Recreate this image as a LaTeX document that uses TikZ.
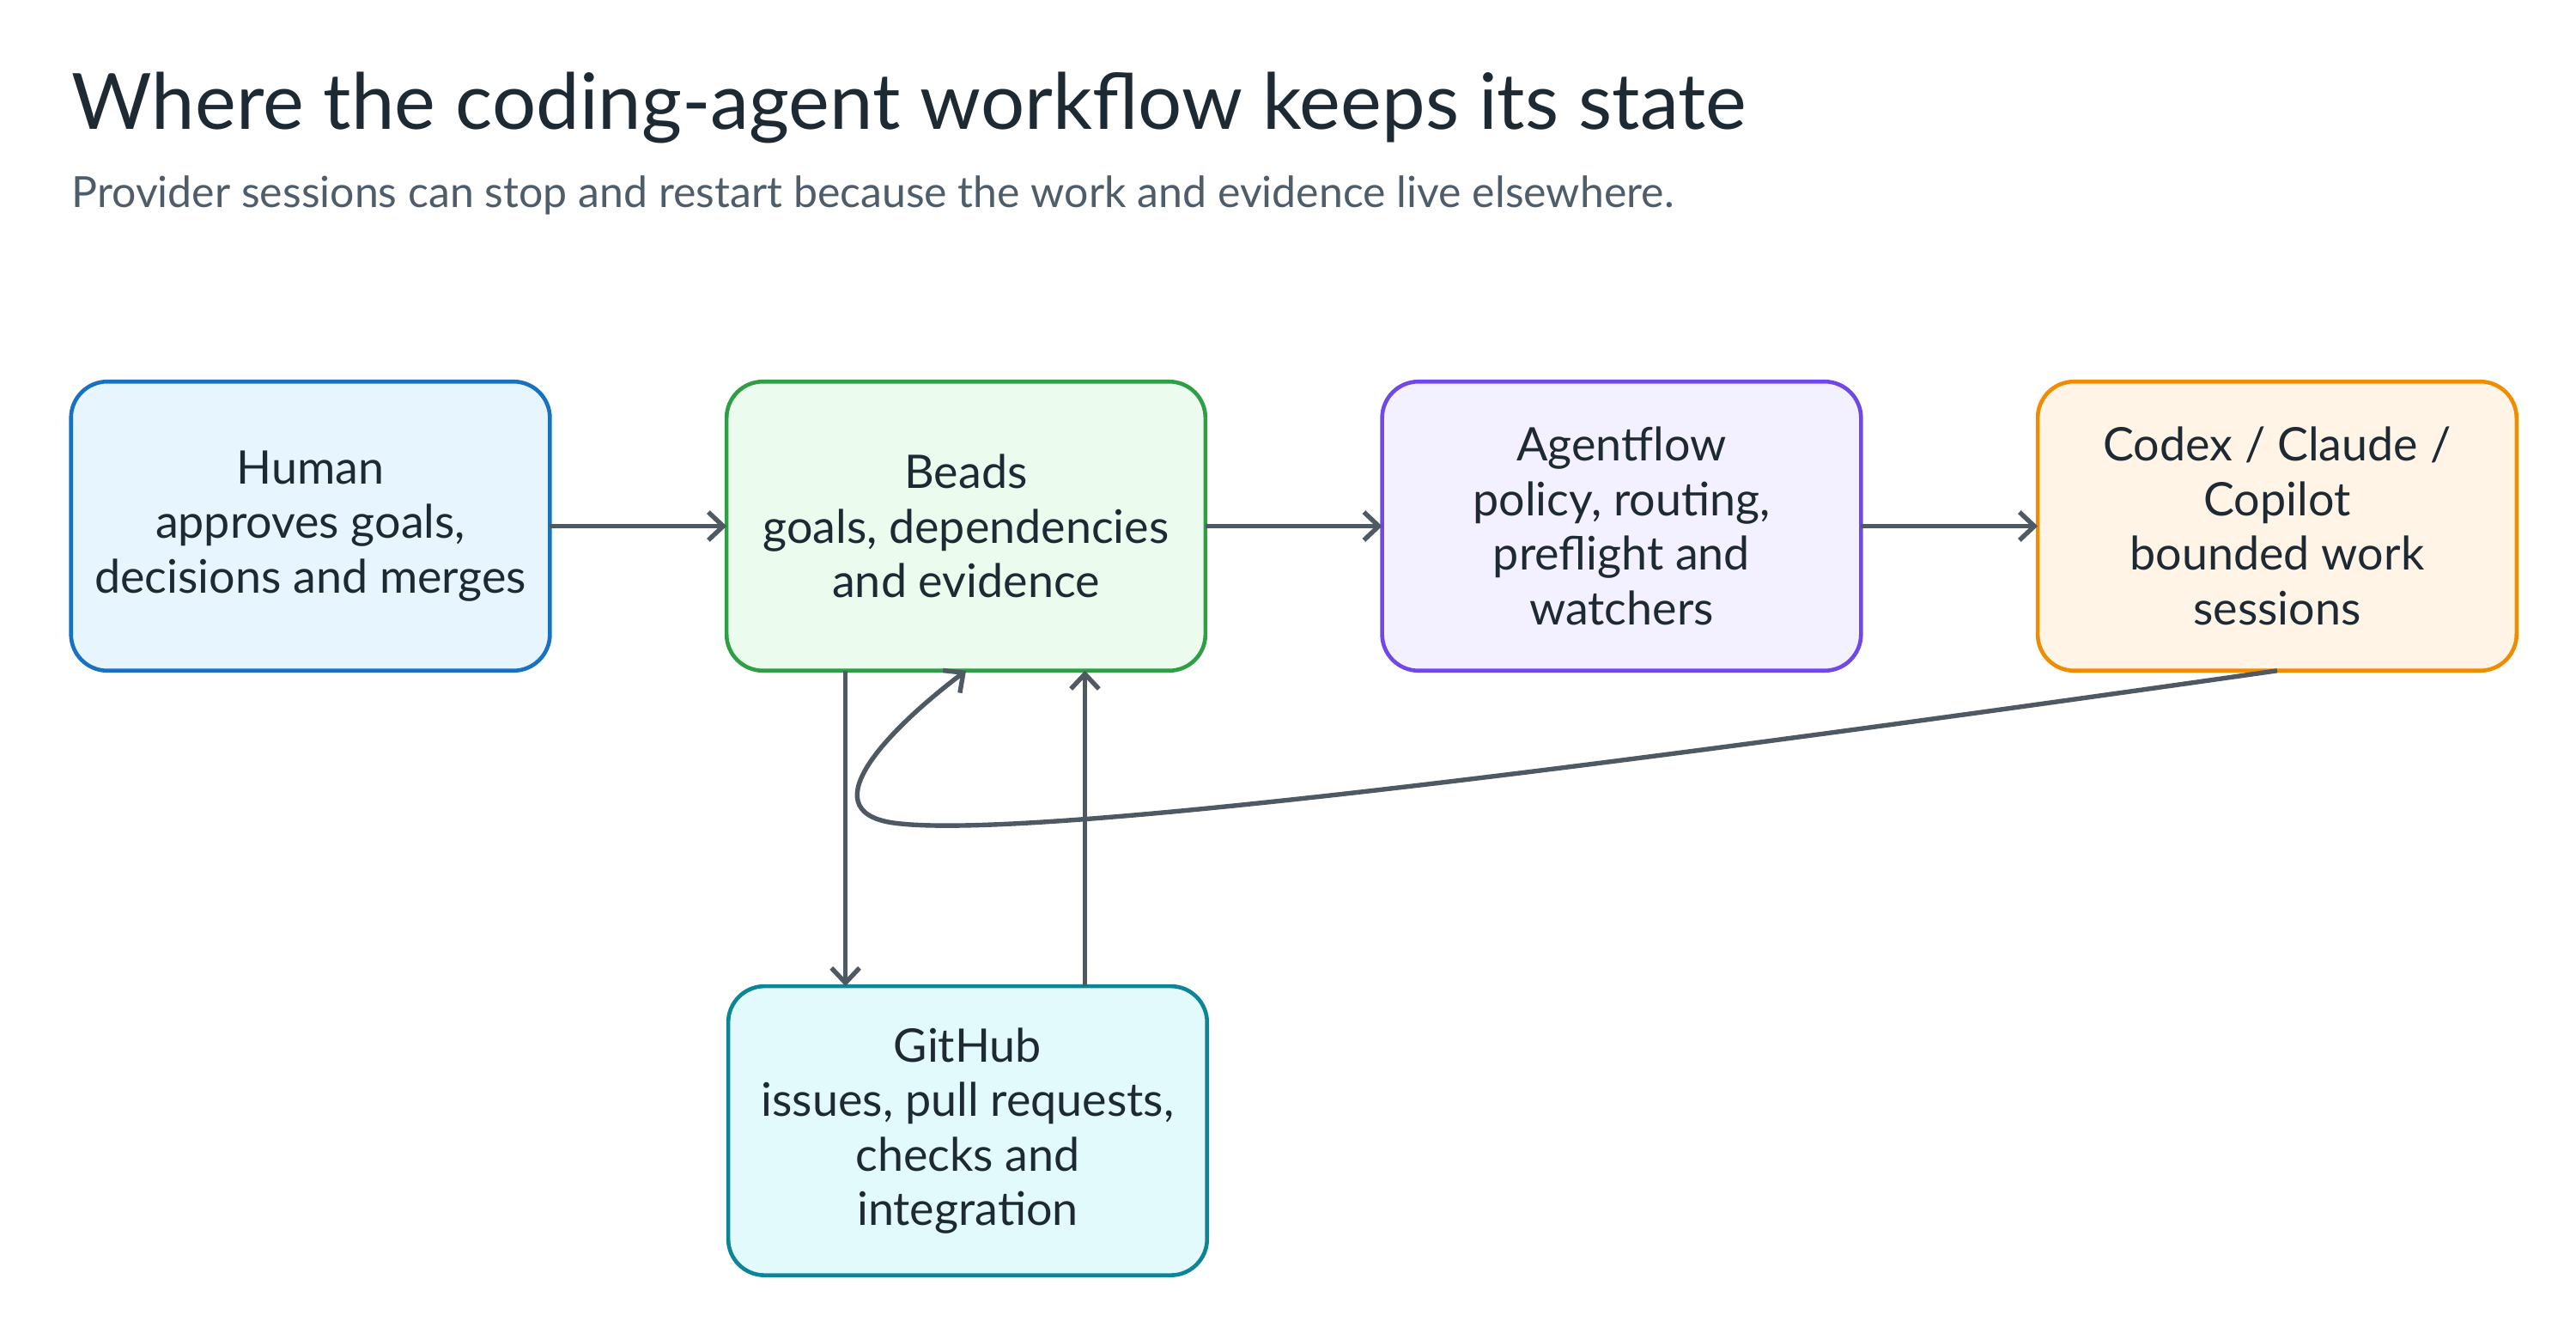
\documentclass[tikz,border=0pt]{standalone}
\usepackage{fontspec}
\setmainfont{Lato}
\usetikzlibrary{arrows.meta}
\definecolor{ink}{HTML}{1E2A33}
\definecolor{sub}{HTML}{4F5D6B}
\definecolor{arr}{HTML}{4F5963}
\definecolor{bD}{HTML}{1971C2}\definecolor{bF}{HTML}{E7F5FF}
\definecolor{gD}{HTML}{2F9E44}\definecolor{gF}{HTML}{EBFBEE}
\definecolor{vD}{HTML}{7048E8}\definecolor{vF}{HTML}{F3F0FF}
\definecolor{oD}{HTML}{F08C00}\definecolor{oF}{HTML}{FFF4E6}
\definecolor{tD}{HTML}{0C8599}\definecolor{tF}{HTML}{E3FAFC}
\begin{document}
\begin{tikzpicture}[x=1pt,y=-1pt,
 box/.style={draw,line width=2.4pt,rounded corners=22pt,minimum width=290pt,minimum height=175pt,outer sep=0pt,align=center,text=ink,font=\fontsize{28}{33}\selectfont},
 con/.style={draw=arr,line width=2.8pt,-{Straight Barb[length=9pt,width=17pt]}}]
\useasboundingbox[fill=white] (0,0) rectangle (1560,811);
\node[anchor=west,text=ink,font=\fontsize{47}{52}\selectfont] (title) at (40,65) {Where the coding-agent workflow keeps its state};
\node[anchor=west,text=sub,font=\fontsize{26}{30}\selectfont] (subt) at (40,118) {Provider sessions can stop and restart because the work and evidence live elsewhere.};
\node[box,draw=bD,fill=bF] (human) at (188,318.5) {Human\\approves goals,\\decisions and merges};
\node[box,draw=gD,fill=gF] (beads) at (585,318.5) {Beads\\goals, dependencies\\and evidence};
\node[box,draw=vD,fill=vF] (agent) at (982,318.5) {Agentflow\\policy, routing,\\preflight and\\watchers};
\node[box,draw=oD,fill=oF] (codex) at (1379,318.5) {Codex / Claude /\\Copilot\\bounded work\\sessions};
\node[box,draw=tD,fill=tF] (gh) at (586,684.5) {GitHub\\issues, pull requests,\\checks and\\integration};
\draw[con] (human.east) -- (beads.west);
\draw[con] (beads.east) -- (agent.west);
\draw[con] (agent.east) -- (codex.west);
\draw[con] (beads.south -| 512,0) -- (gh.north -| 512,0);
\draw[con] (gh.north -| 657,0) -- (beads.south -| 657,0);
\draw[con] (codex.south) .. controls (1000,460) and (620,510) .. (540,498) .. controls (490,490) and (540,440) .. (beads.south);
\end{tikzpicture}
\end{document}
